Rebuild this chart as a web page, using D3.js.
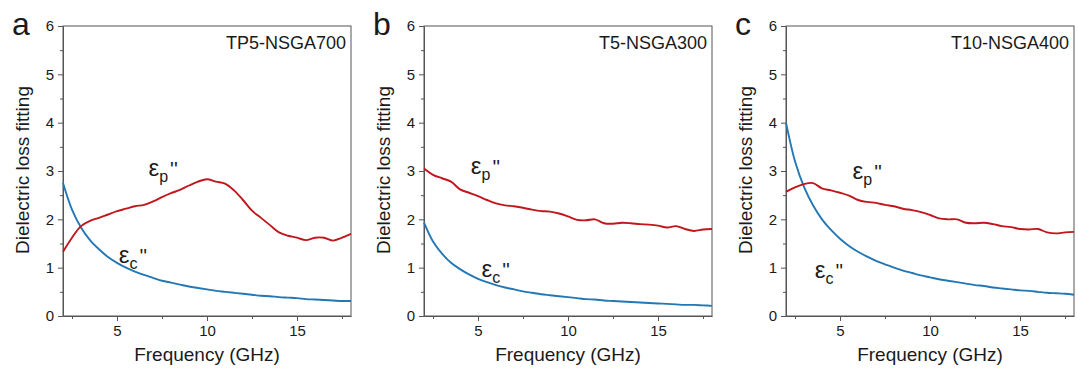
<!DOCTYPE html>
<html>
<head>
<meta charset="utf-8">
<script src="https://cdn.jsdelivr.net/npm/d3@7"></script>
<style>
  body { margin: 0; background: #fff; }
  text { font-family: Arial, "Liberation Sans", sans-serif; fill: #1a1a1a; }
</style>
</head>
<body>
<div id="chart"></div>
<script>
// frequency grid shared by all panels (GHz)
var freq = [2, 2.5, 3, 3.5, 4, 4.5, 5, 5.5, 6, 6.5, 7, 7.5, 8, 8.5, 9, 9.5, 10,
  10.5, 11, 11.5, 12, 12.5, 13, 13.5, 14, 14.5, 15, 15.5, 16, 16.5, 17, 17.5, 18]

// panel a - TP5-NSGA700
var epA = [1.33, 1.62, 1.86, 1.97, 2.03, 2.1, 2.17, 2.22, 2.27, 2.3, 2.37, 2.46, 2.54, 2.61, 2.7, 2.78, 2.83,
  2.78, 2.74, 2.6, 2.4, 2.18, 2.03, 1.88, 1.73, 1.66, 1.62, 1.57, 1.62, 1.62, 1.56, 1.62, 1.7]
var ecA = [2.75, 2.2, 1.83, 1.57, 1.38, 1.22, 1.1, 1.0, 0.92, 0.85, 0.79, 0.73, 0.69, 0.65, 0.61, 0.58, 0.55,
  0.52, 0.5, 0.48, 0.46, 0.44, 0.42, 0.41, 0.39, 0.38, 0.37, 0.35, 0.34, 0.33, 0.32, 0.31, 0.31]

// panel b - T5-NSGA300
var epB = [3.05, 2.92, 2.85, 2.78, 2.62, 2.55, 2.48, 2.4, 2.33, 2.29, 2.27, 2.24, 2.2, 2.17, 2.16, 2.12, 2.06,
  1.99, 1.98, 2.0, 1.92, 1.91, 1.93, 1.92, 1.9, 1.89, 1.87, 1.83, 1.86, 1.8, 1.76, 1.79, 1.8]
var ecB = [1.93, 1.54, 1.29, 1.1, 0.97, 0.86, 0.77, 0.7, 0.64, 0.59, 0.55, 0.51, 0.48, 0.45, 0.43, 0.41, 0.39,
  0.37, 0.35, 0.34, 0.32, 0.31, 0.3, 0.29, 0.28, 0.27, 0.26, 0.25, 0.24, 0.23, 0.23, 0.22, 0.21]

// panel c - T10-NSGA400
var epC = [2.57, 2.66, 2.73, 2.75, 2.64, 2.6, 2.55, 2.49, 2.4, 2.36, 2.34, 2.3, 2.27, 2.22, 2.19, 2.15, 2.09,
  2.02, 2.0, 2.0, 1.93, 1.92, 1.93, 1.9, 1.86, 1.84, 1.8, 1.79, 1.8, 1.73, 1.71, 1.73, 1.74]
var ecC = [4.0, 3.2, 2.67, 2.29, 2.0, 1.78, 1.6, 1.45, 1.33, 1.23, 1.14, 1.07, 1.0, 0.94, 0.89, 0.84, 0.8,
  0.76, 0.73, 0.7, 0.67, 0.64, 0.62, 0.59, 0.57, 0.55, 0.53, 0.52, 0.5, 0.48, 0.47, 0.46, 0.44]

var panelLetters = ["a", "b", "c"]
var panelTitles = ["TP5-NSGA700", "T5-NSGA300", "T10-NSGA400"]
var xTicks = [5, 10, 15]
var yTicks = [0, 1, 2, 3, 4, 5, 6]

var width = 1078
var height = 376
var red = "#c0161c"
var blue = "#2277b4"
var axisColor = "#555"

var svg = d3.select("#chart")
  .append("svg")
  .attr("width", width)
  .attr("height", height)

// layout of each panel + where the epsilon labels sit (in data units)
var panels = [
  { left: 63, ep: epA, ec: ecA, epLab: [6.75, 2.9], ecLab: [5.1, 1.1] },
  { left: 424, ep: epB, ec: ecB, epLab: [4.6, 2.93], ecLab: [5.2, 0.8] },
  { left: 786, ep: epC, ec: ecC, epLab: [5.7, 2.83], ecLab: [3.6, 0.78] }
]
var plotW = 288
var plotTop = 26
var plotBottom = 316
var plotH = plotBottom - plotTop

panels.forEach(function (p, i) {
  var x = d3.scaleLinear().domain([2, 18]).range([0, plotW])
  var y = d3.scaleLinear().domain([0, 6]).range([plotH, 0])

  var g = svg.append("g")
    .attr("transform", "translate(" + p.left + "," + plotTop + ")")

  // frame (top + right)
  g.append("rect")
    .attr("x", 0).attr("y", 0)
    .attr("width", plotW).attr("height", plotH)
    .style("fill", "none")
    .style("stroke", axisColor)
    .style("stroke-width", 1)

  // minor ticks
  g.append("g")
    .attr("transform", "translate(0," + plotH + ")")
    .call(d3.axisBottom(x).tickValues([2.5, 7.5, 12.5, 17.5]).tickSize(3).tickFormat(""))
    .call(function (a) { a.select(".domain").remove() })
  g.append("g")
    .call(d3.axisLeft(y).tickValues([0.5, 1.5, 2.5, 3.5, 4.5, 5.5]).tickSize(3).tickFormat(""))
    .call(function (a) { a.select(".domain").remove() })

  var xa = g.append("g")
    .attr("transform", "translate(0," + plotH + ")")
    .call(d3.axisBottom(x).tickValues(xTicks).tickSize(5).tickPadding(4).tickSizeOuter(0))
  var ya = g.append("g")
    .call(d3.axisLeft(y).tickValues(yTicks).tickFormat(d3.format("d")).tickSize(5).tickPadding(4).tickSizeOuter(0))

  g.selectAll(".tick line").style("stroke", axisColor)
  g.selectAll(".domain").style("stroke", axisColor)
  xa.selectAll("text").style("font-size", "15px").style("fill", "#1a1a1a")
  ya.selectAll("text").style("font-size", "15px").style("fill", "#1a1a1a")

  var line = d3.line()
    .x(function (d) { return x(d[0]) })
    .y(function (d) { return y(d[1]) })
    .curve(d3.curveCatmullRom)

  g.append("path")
    .datum(d3.zip(freq, p.ec))
    .attr("d", line)
    .style("fill", "none")
    .style("stroke", blue)
    .style("stroke-width", 1.9)

  g.append("path")
    .datum(d3.zip(freq, p.ep))
    .attr("d", line)
    .style("fill", "none")
    .style("stroke", red)
    .style("stroke-width", 1.9)

  // epsilon labels
  function epsLabel(pos, sub) {
    var t = g.append("text")
      .attr("x", x(pos[0]))
      .attr("y", y(pos[1]))
      .style("font-size", "24px")
    t.append("tspan").text("ε")
    t.append("tspan").text(sub).attr("dy", 6).style("font-size", "16px")
    t.append("tspan").text("''").attr("dy", -6).attr("dx", 2).style("font-size", "20px")
  }
  epsLabel(p.epLab, "p")
  epsLabel(p.ecLab, "c")

  // sample name
  g.append("text")
    .attr("x", plotW - 5)
    .attr("y", 23)
    .attr("text-anchor", "end")
    .style("font-size", "18px")
    .text(panelTitles[i])

  // axis titles
  g.append("text")
    .attr("x", plotW / 2)
    .attr("y", 335)
    .attr("text-anchor", "middle")
    .style("font-size", "19px")
    .text("Frequency (GHz)")

  g.append("text")
    .attr("transform", "translate(-34," + (plotH / 2 - 1) + ") rotate(-90)")
    .attr("text-anchor", "middle")
    .style("font-size", "19px")
    .text("Dielectric loss fitting")

  // panel letter
  svg.append("text")
    .attr("x", p.left - 51)
    .attr("y", 35)
    .style("font-size", "32px")
    .text(panelLetters[i])
})
</script>
</body>
</html>
